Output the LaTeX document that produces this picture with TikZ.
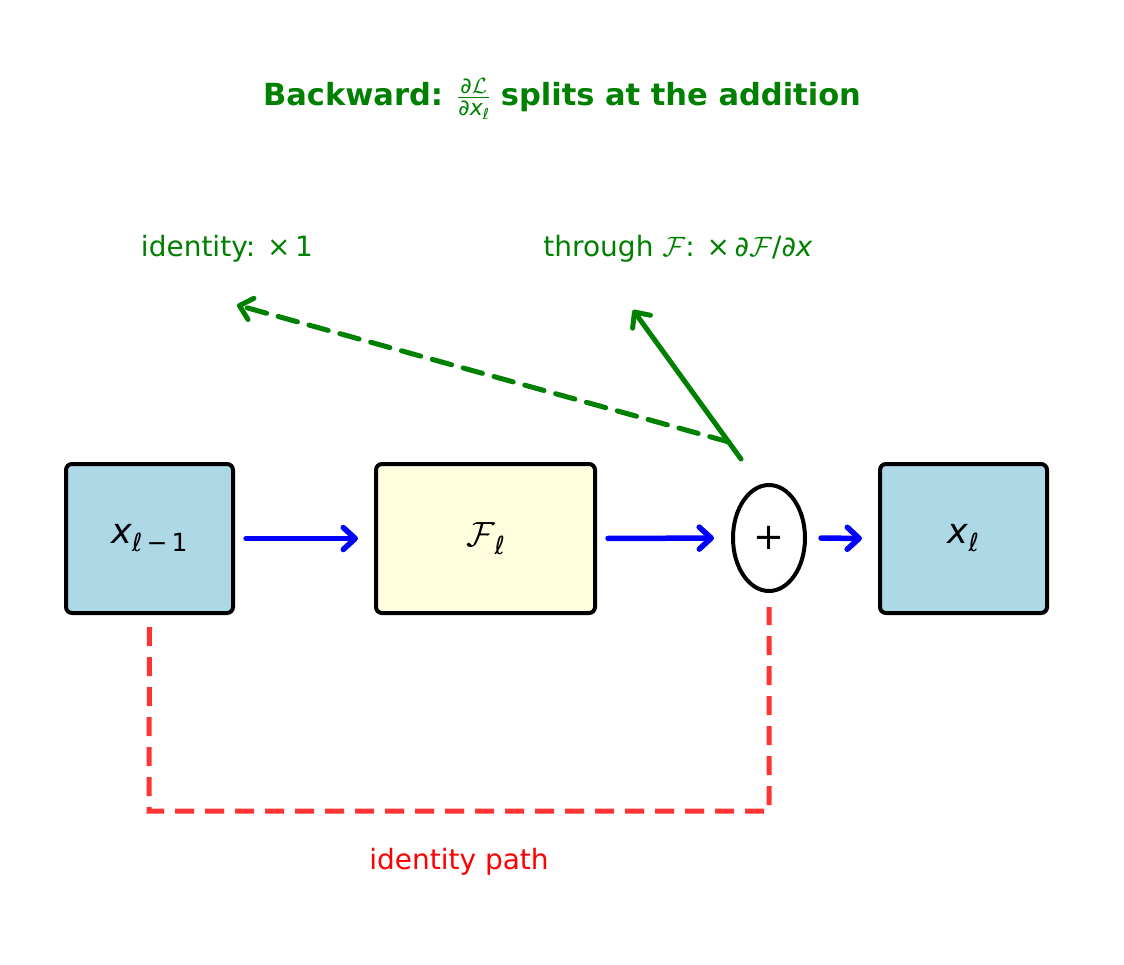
\RequirePackage{fix-cm}
\documentclass[tikz,border=0pt]{standalone}
\usepackage{fontspec}
\setmainfont{DejaVu Sans}
\usetikzlibrary{arrows.meta,shapes.geometric}
\definecolor{mgreen}{RGB}{0,128,0}
\definecolor{mred}{RGB}{255,51,51}
\definecolor{lblue}{RGB}{173,216,230}
\definecolor{lyellow}{RGB}{255,255,224}
\newcommand\fs[1]{\fontsize{#1}{#1}\selectfont}
\begin{document}
\begin{tikzpicture}[x=1pt,y=-1pt,
  box/.style={draw=black,line width=4pt,rounded corners=6pt,minimum width=167pt,minimum height=149pt,inner sep=0pt},
  flow/.style={draw=blue,line width=5.5pt,line cap=round,-{Straight Barb[length=12pt,width=22pt,line cap=round,line join=round]}},
  grad/.style={draw=mgreen,line width=5pt,line cap=round,-{Straight Barb[length=12pt,width=22pt,line cap=round,line join=round]}},
  idp/.style={draw=mred,line width=5pt,dash pattern=on 19pt off 11pt},
  lbl/.style={inner sep=0pt,font=\fs{28}}]
\useasboundingbox (0,0) rectangle (1124,964);
\node[box,fill=lblue] (x1) at (149.5,538.5) {\fs{35}{\itshape x}\raisebox{-8pt}{\fs{25}{\itshape ℓ}\,−\,1}};
\node[box,fill=lyellow,minimum width=219pt] (F) at (485.5,538.5) {\fs{35}$\mathcal{F}$\raisebox{-8pt}{\fs{25}\itshape ℓ}};
\node[draw=black,line width=4pt,ellipse,minimum width=72pt,minimum height=106pt,inner sep=0pt,fill=white] (add) at (769,538) {\fs{37}+};
\node[box,fill=lblue] (x2) at (963.5,538.5) {\fs{35}{\itshape x}\raisebox{-8pt}{\fs{25}\itshape ℓ}};
\draw[flow,shorten <=11pt,shorten >=16pt] (x1.east) -- (F.west);
\draw[flow,shorten <=11pt,shorten >=17pt] (F.east) -- (add.west);
\draw[flow,shorten <=14pt,shorten >=16pt] (add.east) -- (x2.west);
\coordinate (lb) at (149,811);
\coordinate (rb) at (769,811);
\draw[idp,shorten <=12pt,shorten >=14pt] (x1.south) -- (lb) -- (rb) -- (add.south);
\coordinate (gs1) at (729,442);
\coordinate (ge1) at (237,305);
\coordinate (gs2) at (741,459);
\coordinate (ge2) at (633,310);
\draw[grad,dash pattern=on 20pt off 12pt] (gs1) -- (ge1);
\draw[grad] (gs2) -- (ge2);
\node[inner sep=0pt,text=mgreen,font=\fs{30.5}\bfseries] (title) at (562,99) {Backward: $\frac{\hbox{\fs{22}\mdseries ∂$\mathcal{L}$}}{\hbox{\fs{22}\mdseries ∂{\itshape x}\raisebox{-4pt}{\fs{15}\itshape ℓ}}}$ splits at the addition};
\node[lbl,text=mgreen] (idl) at (227,249) {identity: ×\,1};
\node[lbl,text=mgreen] (thl) at (678,249) {through $\mathcal{F}$: ×\,∂$\mathcal{F}$/∂{\itshape x}};
\node[lbl,text=red] (ipl) at (459,862) {identity path};
\end{tikzpicture}
\end{document}
